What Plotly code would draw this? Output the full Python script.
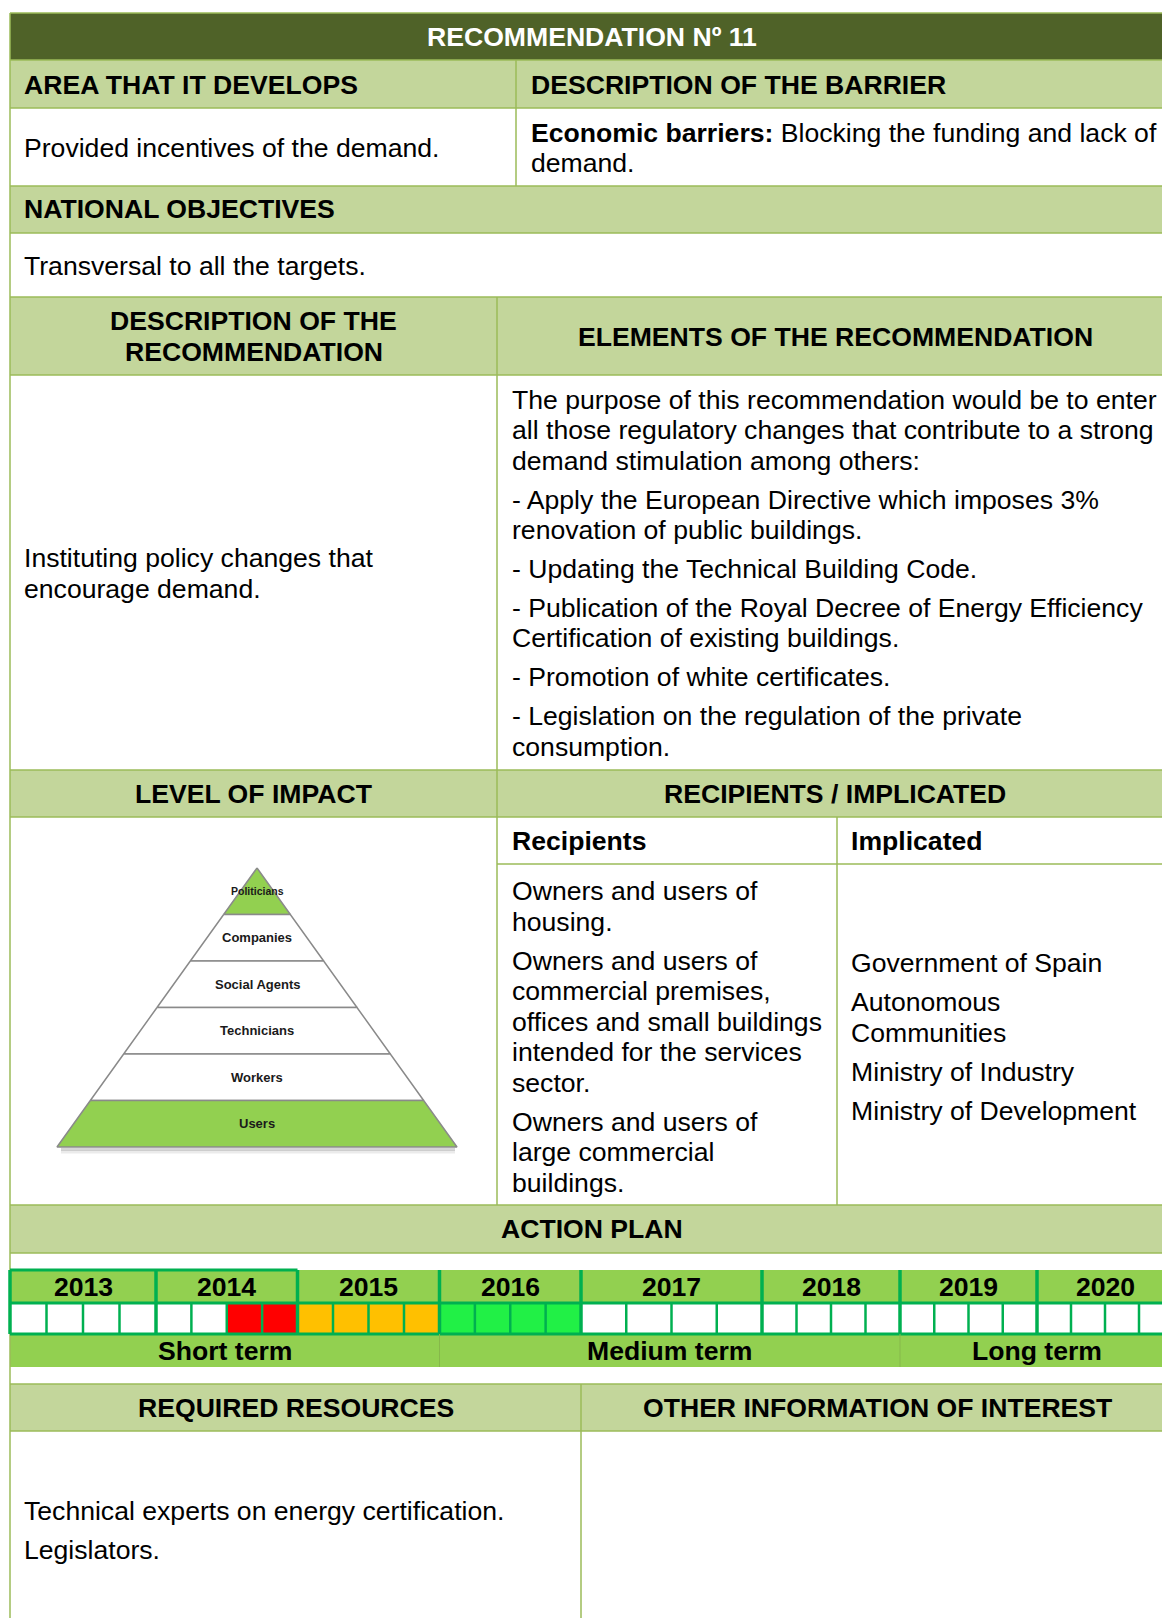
import plotly.graph_objects as go

# ---------------- data ----------------
title = "RECOMMENDATION Nº 11"
area_header = "AREA THAT IT DEVELOPS"
barrier_header = "DESCRIPTION OF THE BARRIER"
area_text = "Provided incentives of the demand."
barrier_bold = "Economic barriers:"
barrier_lines = ["Blocking the funding and lack of", "demand."]
objectives_header = "NATIONAL OBJECTIVES"
objectives_text = "Transversal to all the targets."
desc_header = ["DESCRIPTION OF THE", "RECOMMENDATION"]
elements_header = "ELEMENTS OF THE RECOMMENDATION"
description_lines = ["Instituting policy changes that", "encourage demand."]
elements_paragraphs = [
    ["The purpose of this recommendation would be to enter",
     "all those regulatory changes that contribute to a strong",
     "demand stimulation among others:"],
    ["- Apply the European Directive which imposes 3%",
     "renovation of public buildings."],
    ["- Updating the Technical Building Code."],
    ["- Publication of the Royal Decree of Energy Efficiency",
     "Certification of existing buildings."],
    ["- Promotion of white certificates."],
    ["- Legislation on the regulation of the private",
     "consumption."],
]
impact_header = "LEVEL OF IMPACT"
recip_header = "RECIPIENTS / IMPLICATED"
pyramid_levels = ["Politicians", "Companies", "Social Agents", "Technicians", "Workers", "Users"]
pyramid_highlight = [True, False, False, False, False, True]
recipients_title = "Recipients"
implicated_title = "Implicated"
recipients_paragraphs = [
    ["Owners and users of", "housing."],
    ["Owners and users of", "commercial premises,", "offices and small buildings",
     "intended for the services", "sector."],
    ["Owners and users of", "large commercial", "buildings."],
]
implicated_paragraphs = [
    ["Government of Spain"],
    ["Autonomous", "Communities"],
    ["Ministry of Industry"],
    ["Ministry of Development"],
]
action_header = "ACTION PLAN"
years = [2013, 2014, 2015, 2016, 2017, 2018, 2019, 2020]
# quarter status per year: "" none, "R" red, "O" orange, "G" green
quarter_status = [
    ["", "", "", ""],
    ["", "", "R", "R"],
    ["O", "O", "O", "O"],
    ["G", "G", "G", "G"],
    ["", "", "", ""],
    ["", "", "", ""],
    ["", "", "", ""],
    ["", "", "", ""],
]
terms = ["Short term", "Medium term", "Long term"]
term_year_span = [(2013, 2015), (2016, 2018), (2019, 2020)]
resources_header = "REQUIRED RESOURCES"
other_header = "OTHER INFORMATION OF INTEREST"
resources_lines = ["Technical experts on energy certification.", "Legislators."]

# ---------------- layout constants ----------------
W, H = 1162, 1618
L, R = 10, 1173
FONT = "Liberation Sans, Arial, Helvetica, sans-serif"
FS = 26.6
DARK = "#4F6228"
LIGHT = "#C3D69B"
BORDER = "#9BBB59"
TLG = "#92D050"
TLB = "#00B050"
STATUS_COL = {"": "white", "R": "#FF0000", "O": "#FFC000", "G": "#21F046"}
year_edges = [10, 156, 297.5, 439.5, 581, 762, 900, 1037, 1173]

fig = go.Figure()
shapes = []
ann = []


def rect(x0, y0, x1, y1, fill, lw=0, lc=None):
    shapes.append(dict(type="rect", xref="x", yref="y", x0=x0, y0=y0, x1=x1, y1=y1,
                       fillcolor=fill, line=dict(width=lw, color=lc or fill), layer="below"))


def line(x0, y0, x1, y1, color=BORDER, w=1.5):
    shapes.append(dict(type="line", xref="x", yref="y", x0=x0, y0=y0, x1=x1, y1=y1,
                       line=dict(width=w, color=color), layer="below"))


def txt(x, y, s, size=FS, bold=False, anchor="left", color="black"):
    if bold:
        s = "<b>" + s + "</b>"
    ann.append(dict(x=x, y=y, xref="x", yref="y", text=s, showarrow=False,
                    xanchor=anchor, yanchor="middle", borderpad=0,
                    font=dict(family=FONT, size=size, color=color)))


# ---- bands ----
rect(L, 13, R, 60, DARK)
for (a, b) in [(60, 108), (186, 233), (297, 375), (770, 817), (1205, 1253), (1384, 1431)]:
    rect(L, a, R, b, LIGHT)

# timeline rows
rect(L, 1270, R, 1303, TLG)
rect(L, 1334, R, 1367, TLG)
for i, yr in enumerate(years):
    x0, x1 = year_edges[i], year_edges[i + 1]
    qw = (x1 - x0) / 4
    for q, st in enumerate(quarter_status[i]):
        rect(x0 + q * qw, 1303, x0 + (q + 1) * qw, 1334, STATUS_COL[st])

# ---- table lines ----
for y in [13, 60, 108, 186, 233, 297, 375, 770, 817, 1205, 1253, 1384, 1431]:
    line(L, y, R, y)
line(497, 864, R, 864)
line(L, 13, L, H + 5)
line(516, 60, 516, 186)
line(497, 297, 497, 1205)
line(837, 817, 837, 1205)
line(581, 1384, 581, H + 5)

# ---- timeline grid ----
for i, yr in enumerate(years):
    x0, x1 = year_edges[i], year_edges[i + 1]
    qw = (x1 - x0) / 4
    for q in range(1, 4):
        line(x0 + q * qw, 1303, x0 + q * qw, 1334, TLB, 2.5)
    txt((x0 + x1) / 2, 1286.5, str(yr), bold=True, anchor="center")
for xe in year_edges:
    line(xe, 1270, xe, 1334, TLB, 3.5)
line(L, 1270, year_edges[2], 1270, TLB, 3)
line(L, 1303, R, 1303, TLB, 3)
line(L, 1334, R, 1334, TLB, 3)

for term, (ya, yb) in zip(terms, term_year_span):
    x0 = year_edges[years.index(ya)]
    x1 = year_edges[years.index(yb) + 1]
    if x0 > L:
        line(x0, 1334, x0, 1367, "#86B84A", 1)
    txt((x0 + x1) / 2, 1350.5, term, bold=True, anchor="center")

# ---- pyramid ----
apex_x, apex_y, base_y, half_base = 257, 868, 1147, 200
n = len(pyramid_levels)
hstep = (base_y - apex_y) / n
# soft shadow under base
for off, alpha in [(2.5, 0.16), (5, 0.08)]:
    fig.add_trace(go.Scatter(x=[apex_x - half_base + 4, apex_x + half_base - 2],
                             y=[base_y + off, base_y + off], mode="lines",
                             line=dict(color="rgba(0,0,0,%s)" % alpha, width=3),
                             hoverinfo="skip"))
for k, (lvl, hl) in enumerate(zip(pyramid_levels, pyramid_highlight)):
    yt = apex_y + k * hstep
    yb = apex_y + (k + 1) * hstep
    wt = half_base * (yt - apex_y) / (base_y - apex_y)
    wb = half_base * (yb - apex_y) / (base_y - apex_y)
    xs = [apex_x - wt, apex_x + wt, apex_x + wb, apex_x - wb, apex_x - wt]
    ys = [yt, yt, yb, yb, yt]
    fig.add_trace(go.Scatter(x=xs, y=ys, mode="lines", fill="toself",
                             fillcolor=TLG if hl else "white",
                             line=dict(color="#8A8A8A", width=1.5),
                             hoverinfo="skip"))
    txt(apex_x, (yt + yb) / 2, lvl, size=10.5 if k == 0 else 13, bold=True,
        anchor="center", color="#1a1a1a")

# ---- texts ----
txt((L + R) / 2, 37, title, bold=True, anchor="center", color="white")
txt(23, 85, area_header, bold=True)
txt(530, 85, barrier_header, bold=True)
txt(23, 148, area_text)
txt(530, 132.5, "<b>" + barrier_bold + "</b> " + barrier_lines[0])
txt(530, 163, barrier_lines[1])
txt(23, 209, objectives_header, bold=True)
txt(23, 266, objectives_text)
txt((L + 497) / 2, 320.5, desc_header[0], bold=True, anchor="center")
txt((L + 497) / 2, 351.5, desc_header[1], bold=True, anchor="center")
txt((497 + R) / 2, 336.5, elements_header, bold=True, anchor="center")
txt(23, 558, description_lines[0])
txt(23, 589, description_lines[1])

LH = 30.4
PG = 8.5
y = 400
for para in elements_paragraphs:
    for ln in para:
        txt(511, y, ln)
        y += LH
    y += PG

txt((L + 497) / 2, 793.5, impact_header, bold=True, anchor="center")
txt((497 + R) / 2, 793.5, recip_header, bold=True, anchor="center")
txt(511, 841, recipients_title, bold=True)
txt(850, 841, implicated_title, bold=True)

y = 891
for para in recipients_paragraphs:
    for ln in para:
        txt(511, y, ln)
        y += 30.5
    y += 8.6
y = 963
for para in implicated_paragraphs:
    for ln in para:
        txt(850, y, ln)
        y += 30.6
    y += 8.6

txt((L + R) / 2, 1229, action_header, bold=True, anchor="center")
txt((L + 581) / 2, 1407.5, resources_header, bold=True, anchor="center")
txt((581 + R) / 2, 1407.5, other_header, bold=True, anchor="center")
txt(23, 1511, resources_lines[0])
txt(23, 1550, resources_lines[1])

fig.update_layout(
    width=W, height=H, margin=dict(l=0, r=0, t=0, b=0),
    paper_bgcolor="white", plot_bgcolor="white", showlegend=False,
    xaxis=dict(range=[0, W], visible=False, fixedrange=True),
    yaxis=dict(range=[H, 0], visible=False, fixedrange=True),
    shapes=shapes, annotations=ann,
)

fig.write_html("out.html", config={"displayModeBar": False},
               post_script="document.body.style.margin='0';document.body.style.overflow='hidden';")
